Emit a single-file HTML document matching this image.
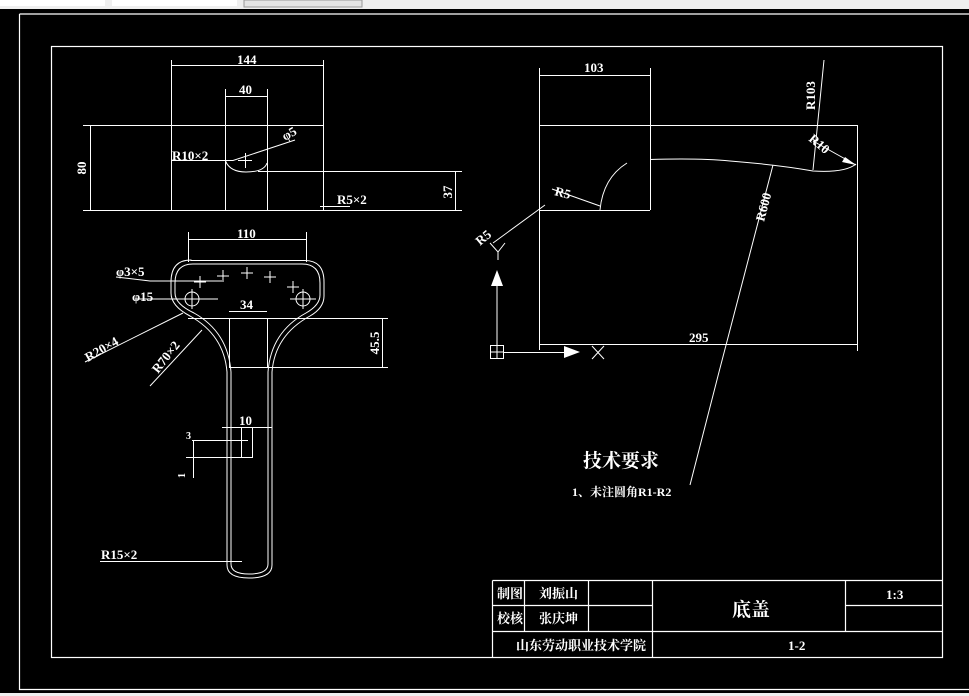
<!DOCTYPE html>
<html><head><meta charset="utf-8"><style>
html,body{margin:0;padding:0;background:#000;width:969px;height:696px;overflow:hidden}
svg{display:block}
text{fill:#fff;font-family:"Liberation Serif","Noto Serif CJK SC",serif;font-weight:bold}
</style></head><body>
<svg width="969" height="696" viewBox="0 0 969 696" xmlns="http://www.w3.org/2000/svg">
<rect x="0" y="0" width="969" height="696" fill="#000"/>
<!-- top toolbar strip -->
<rect x="0" y="0" width="969" height="9" fill="#efefef"/>
<rect x="0" y="0" width="105" height="6" fill="#fff"/>
<rect x="112" y="0" width="125" height="6" fill="#fff"/>
<rect x="244" y="0" width="118" height="7" fill="#e4e4e4" stroke="#999" stroke-width="1"/>
<rect x="0" y="693" width="969" height="3" fill="#efefef"/>
<g stroke="#fff" stroke-width="1.2" fill="none">
<!-- frames -->
<path d="M19.5 14 H969 M19.5 14 V689.5 H969"/>
<rect x="51.5" y="46.5" width="891" height="611"/>
<!-- title block -->
<path d="M492.5 580.5 H942 M492.5 580.5 V657 M492.5 605.5 H652 M492.5 631.5 H942 M845.5 605.5 H942 M524.5 580.5 V631 M588.5 580.5 V631 M652.5 580.5 V657 M845.5 580.5 V631"/>
</g>
<g stroke="#fff" stroke-width="1" fill="none">
<!-- front view top-left -->
<path d="M171.5 60 V210 M323.5 60 V210 M171 65.5 H323 M225.5 89 V210 M267.5 89 V210 M225 96.5 H267"/>
<path d="M83 125.5 H323 M83 210.5 H462 M258 171.5 H462 M90.5 125 V210 M455.5 171 V210"/>
<path d="M225.5 161 Q230 172 246 172 Q264 172 267 163"/>
<path d="M172 160.5 H233 L295 140 M320 206.5 H350"/>
<path d="M238 160.5 H252 M245.5 153 V168"/>
<!-- bottom-left view -->
<path d="M188.5 232 V262 M306.5 232 V262 M188 239.5 H306"/>
<path d="M191 260.5 H304 Q324 260 324 282 V296 Q324 308 310 316 Q275 335 272 372 V565 Q272 578 249 578 Q227 578 227 565 V372 Q224 335 190 316 Q171 306 171 293 V282 Q171 260 191 260 Z"/>
<path d="M193 264 H302 Q320 264 320 283 V295 Q320 305 306 313 Q271 332 268 372 V564 Q268 574 249 574 Q231 574 231 564 V372 Q228 332 194 313 Q175 304 175 293 V283 Q175 264 193 264 Z"/>
<path d="M188 318.5 H388 M229.5 318 V367 M267.5 318 V367 M229 367.5 H388 M382.5 318 V367 M229 311.5 H267"/>
<circle cx="192" cy="299" r="7"/><circle cx="303" cy="299" r="7"/>
<path d="M181 299 H204 M192 289 V309 M290 299 H316 M303 289 V309"/>
<path d="M194 282 H206 M200 276 V288 M217 276 H229 M223 270 V282 M241 273 H253 M247 267 V279 M264 277 H276 M270 271 V283 M287 287 H299 M293 281 V293"/>
<path d="M116 277 L150 281 H222 M135 299 H218 M85 362 L183 313 M150 386 L202 330"/>
<path d="M222 427.5 H272 M241.5 427 V458 M252.5 427 V458 M192 440.5 H248 M186 457.5 H252 M193.5 440 V478"/>
<path d="M100 561.5 H242"/>
<!-- right view -->
<path d="M539.5 68 V350 M650.5 68 V210 M539 75.5 H650 M539 125.5 H857 M857.5 125 V351 M539 210.5 H650 M539 344.5 H857"/>
<path d="M650 159.5 Q700 158 730 161 Q780 165 813 171 Q845 173 856 164"/>
<path d="M600 210 Q603 178 627 163"/>
<path d="M824 60 L813 170 M813 141 L856 165"/>
<path d="M773 165 L719 372 L690 485"/>
<path d="M552 189 L600 206 M545 205 L493 243"/>
<path d="M490 243 L498 252 L505 243 M498 252 V260"/>
<rect x="490.5" y="345.5" width="13" height="13"/><path d="M497 345 V359 M490 352 H504 M497 345 V285 M504 352.5 H565"/>
<path d="M592 346 L604 359 M604 346 L592 359"/>
</g>
<g fill="#fff">
<path d="M497 270 L491 286 H503 Z"/>
<path d="M580 352 L564 346 V358 Z"/>
<path d="M856 165 L845 157 L842 162 Z"/>
</g>
<!-- labels -->
<g font-size="13">
<text x="237" y="64">144</text>
<text x="239" y="94">40</text>
<text x="172" y="160">R10×2</text>
<text x="337" y="204">R5×2</text>
<text transform="translate(86,168) rotate(-90)" text-anchor="middle">80</text>
<text transform="translate(452,192) rotate(-90)" text-anchor="middle">37</text>
<text transform="translate(285,141) rotate(-30)">φ5</text>
<text x="237" y="238">110</text>
<text x="116" y="276">φ3×5</text>
<text x="132" y="301">φ15</text>
<text x="240" y="309">34</text>
<text transform="translate(379,343) rotate(-90)" text-anchor="middle">45.5</text>
<text transform="translate(88,362) rotate(-30)">R20×4</text>
<text transform="translate(158,374) rotate(-52)">R70×2</text>
<text x="239" y="425">10</text>
<text x="186" y="439" font-size="10">3</text>
<text transform="translate(185,478) rotate(-90)" font-size="10">1</text>
<text x="101" y="559">R15×2</text>
<text x="584" y="72">103</text>
<text x="689" y="342">295</text>
<text transform="translate(554,195) rotate(15)">R5</text>
<text transform="translate(480,246) rotate(-40)">R5</text>
<text transform="translate(815,110) rotate(-90)">R103</text>
<text transform="translate(808,140) rotate(40)">R10</text>
<text transform="translate(764,222) rotate(-75)">R600</text>
</g>
<text x="583" y="467" font-size="19" font-weight="normal">技术要求</text>
<text x="572" y="496" font-size="12">1、未注圆角R1-R2</text>
<g font-size="13">
<text x="497" y="598">制图</text>
<text x="539" y="598">刘振山</text>
<text x="497" y="623">校核</text>
<text x="539" y="623">张庆坤</text>
<text x="516" y="650">山东劳动职业技术学院</text>
<text x="886" y="599">1:3</text>
<text x="788" y="650">1-2</text>
</g>
<text x="732" y="616" font-size="19" font-weight="normal">底盖</text>
</svg>
</body></html>
